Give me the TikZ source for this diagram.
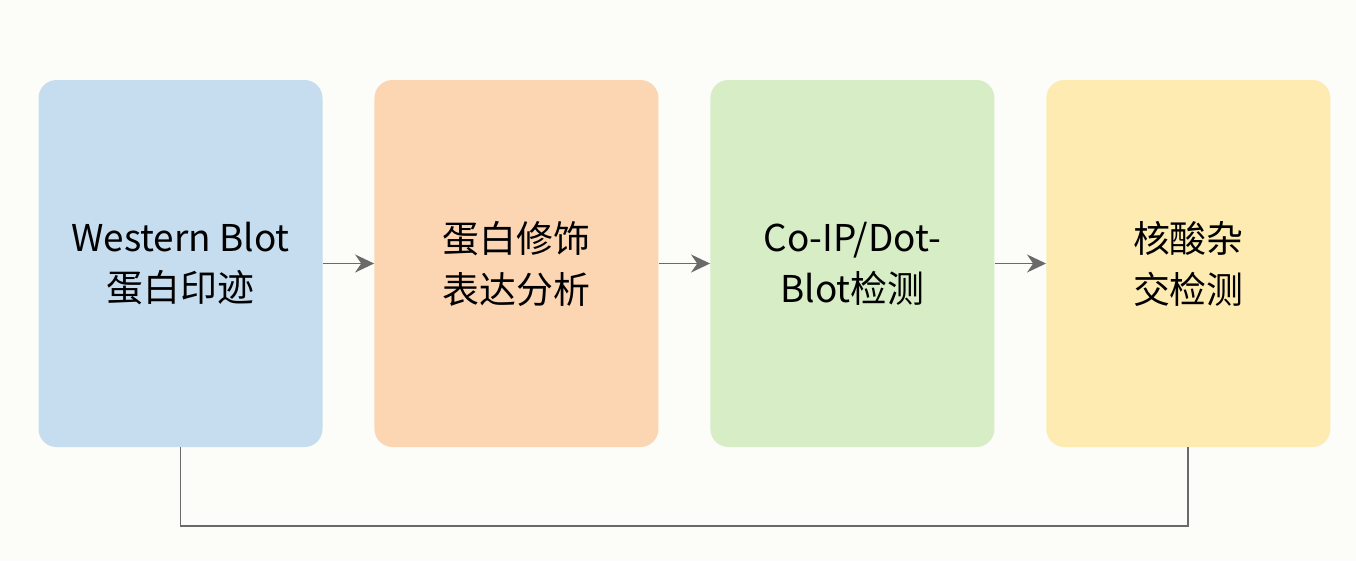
\documentclass[tikz,border=0pt]{standalone}
\usepackage{fontspec}
\setmainfont{Noto Sans CJK SC}
\usetikzlibrary{shapes, arrows.meta, positioning, fit}
\definecolor{bgcol}{HTML}{FCFCF9}
\definecolor{wbblue}{HTML}{C5DDEE}
\definecolor{modorange}{HTML}{FCD6B2}
\definecolor{ipgreen}{HTML}{D7EDC6}
\definecolor{hybyellow}{HTML}{FDEBB2}
\definecolor{linegray}{HTML}{6A6A6A}
\tikzstyle{box} = [rectangle, rounded corners=0.36cm, draw=none, minimum width=5.68cm, minimum height=7.34cm, text centered, align=center, font=\fontsize{21}{29}\selectfont]
\tikzstyle{line} = [line width=1pt, draw=linegray, -, >={Stealth[length=0.38cm, width=0.36cm]}]

\begin{document}
\begin{tikzpicture}[node distance=1.025cm]
\useasboundingbox (0,0) rectangle (27.12,-11.22);
\fill [bgcol] (0,0) rectangle (27.12,-11.22);
\node (wb) [box, fill=wbblue] at (3.61,-5.27) {Western Blot\\蛋白印迹};
\node (mod) [box, fill=modorange, right=of wb] {蛋白修饰\\表达分析};
\node (coip) [box, fill=ipgreen, right=of mod] {Co-IP/Dot-\\Blot检测};
\node (hyb) [box, fill=hybyellow, right=of coip] {核酸杂\\交检测};

\draw [line,->] (wb) -- (mod);
\draw [line,->] (mod) -- (coip);
\draw [line,->] (coip) -- (hyb);

\draw [line] (wb.south) -- ++(0,-1.58) -| (hyb.south);
\end{tikzpicture}
\end{document}
